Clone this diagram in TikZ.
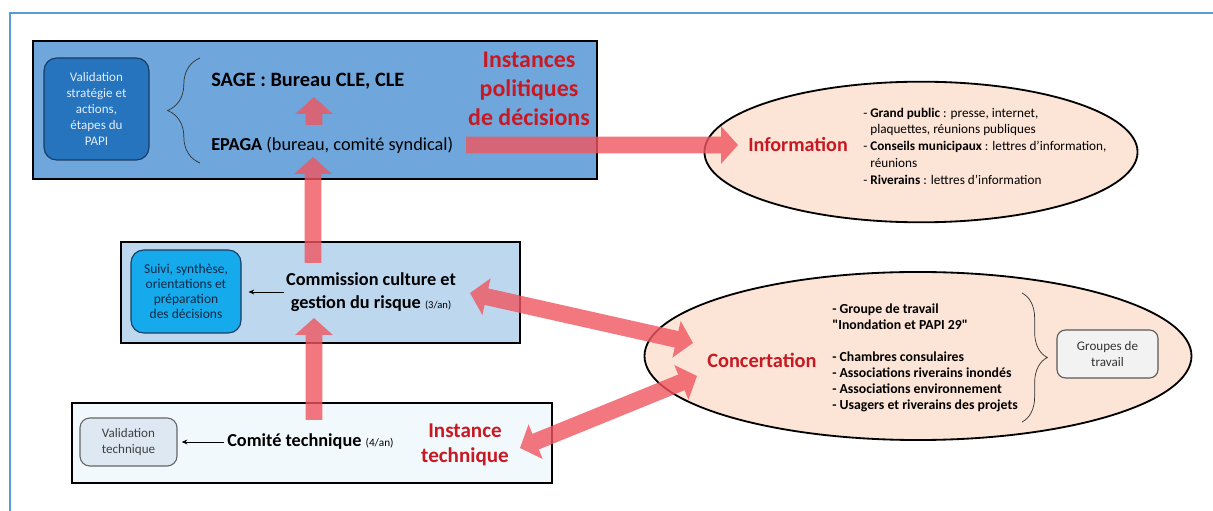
\documentclass[tikz,border=0pt]{standalone}
\usepackage{fontspec}
\setmainfont{Carlito}
\usetikzlibrary{arrows.meta,shapes.geometric,fit,decorations.pathreplacing}

\definecolor{framecol}{RGB}{91,155,213}
\definecolor{topfill}{RGB}{111,166,219}
\definecolor{midfill}{RGB}{189,215,238}
\definecolor{botfill}{RGB}{242,249,253}
\definecolor{validfill}{RGB}{38,115,190}
\definecolor{validdraw}{RGB}{25,60,100}
\definecolor{suivifill}{RGB}{20,170,235}
\definecolor{vtfill}{RGB}{222,232,243}
\definecolor{peach}{RGB}{252,228,214}
\definecolor{gtfill}{RGB}{242,242,242}
\definecolor{redtxt}{RGB}{200,25,35}
\definecolor{arrowred}{RGB}{240,85,95}

\tikzset{
  box/.style={draw=black, line width=1.4pt, inner sep=0pt},
  rbox/.style={draw, rounded corners=8pt, line width=0.8pt, inner sep=0pt},
  oval/.style={ellipse, draw=black, line width=1.3pt, fill=peach, inner sep=0pt},
  redarrow/.style={line width=12pt, draw=arrowred, -{Triangle[width=26pt,length=12pt]}},
  dredarrow/.style={line width=12pt, draw=arrowred, {Triangle[width=26pt,length=12pt]}-{Triangle[width=26pt,length=12pt]}},
  thinarrow/.style={-{Stealth[length=4pt,width=3.5pt]}, line width=0.6pt},
  redtitle/.style={text=redtxt, font=\bfseries\fontsize{15}{17.8}\selectfont, align=center, inner sep=0pt},
  smalltxt/.style={align=center, inner sep=0pt},
}

\begin{document}
\begin{tikzpicture}[x=0.025cm, y=-0.025cm]
%\draw[step=50,gray,very thin] (0,0) grid (1213,511); %background grid
\useasboundingbox (0,0) rectangle (1213,511);
\draw[framecol, line width=2pt] (10,511) -- (10,13) -- (1213,13);

% instances politiques
\node[box, fill=topfill, fit={(33,41) (597,179)}] (politique) {};
\node[rbox, fill=validfill, draw=validdraw, rounded corners=9pt, fit={(44,58) (149,160)}] (valid) {};
\node[smalltxt, text={rgb,255:red,225;green,238;blue,250}, font=\fontsize{9.3}{11.4}\selectfont] (validtxt) at (valid.center) {Validation\\stratégie et\\actions,\\étapes du\\PAPI};
\draw[black!80, line width=0.5pt, decorate, decoration={brace, amplitude=23pt}] (200,163) -- (200,58);
\node[anchor=west, inner sep=0pt, font=\bfseries\fontsize{14.5}{17}\selectfont] (sage) at (211,81) {SAGE : Bureau CLE, CLE};
\node[anchor=west, inner sep=0pt, font=\fontsize{13}{15}\selectfont] (epaga) at (211,145) {\textbf{EPAGA} (bureau, comité syndical)};
\node[redtitle, font=\bfseries\fontsize{17}{20.6}\selectfont] (instpol) at (529,89) {Instances\\politiques\\de décisions};

% commission
\node[box, fill=midfill, fit={(121,242) (520,343)}] (commbox) {};
\node[rbox, fill=suivifill, draw=validdraw, rounded corners=9pt, fit={(131,250) (241,333)}] (suivi) {};
\node[smalltxt, text={rgb,255:red,20;green,40;blue,70}, font=\fontsize{9.6}{10.7}\selectfont] (suivitxt) at (suivi.center) {Suivi, synthèse,\\orientations et\\préparation\\des décisions};
\node[align=center, inner sep=1pt, font=\bfseries\fontsize{13}{16.4}\selectfont] (commission) at (371,292) {Commission culture et\\gestion du risque {\mdseries\fontsize{7.5}{8}\selectfont(3/an)}};
\draw[thinarrow, shorten >=5pt] (commission.west) -- (suivi.east |- commission.west);

% comite technique
\node[box, fill=botfill, fit={(72,403) (552,483)}] (techbox) {};
\node[rbox, fill=vtfill, draw=black!60, rounded corners=7pt, fit={(80,418) (177,466)}] (vtech) {};
\node[smalltxt, text=black!75, font=\fontsize{9.3}{12}\selectfont] (vtechtxt) at (vtech.center) {Validation\\technique};
\node[anchor=west, inner sep=0pt, font=\bfseries\fontsize{13}{15}\selectfont] (comite) at (227,442) {Comité technique {\mdseries\fontsize{8}{9}\selectfont(4/an)}};
\draw[thinarrow, shorten >=3pt, shorten <=2pt] (comite.west) -- (vtech.east |- comite.west);
\node[redtitle] (insttech) at (465,445) {Instance\\technique};

% information
\node[oval, minimum width=308pt, minimum height=100pt] (info) at (921,152) {};
\node[anchor=west, inner sep=0pt, text=redtxt, font=\bfseries\fontsize{14.3}{17}\selectfont] (infotxt) at (748,145) {Information};
\node[anchor=west, align=left, inner sep=0pt, font=\fontsize{9.4}{11.9}\selectfont] (infolist) at (863,146) {- \textbf{Grand public} : presse, internet,\\\hspace*{5pt}plaquettes, réunions publiques\\- \textbf{Conseils municipaux} : lettres d’information,\\\hspace*{5pt}réunions\\- \textbf{Riverains} : lettres d’information};

% concertation
\node[oval, minimum width=389pt, minimum height=119.5pt] (conc) at (918,356) {};
\node[anchor=west, inner sep=0pt, text=redtxt, font=\bfseries\fontsize{14.5}{17}\selectfont] (conctxt) at (707,360) {Concertation};
\node[anchor=west, align=left, inner sep=0pt, font=\bfseries\fontsize{9.8}{11.4}\selectfont] (conclist) at (832,357.5) {- Groupe de travail\\\textquotedbl Inondation et PAPI 29\textquotedbl\\[11.4pt]- Chambres consulaires\\- Associations riverains inondés\\- Associations environnement\\- Usagers et riverains des projets};
\draw[black!80, line width=0.5pt, decorate, decoration={brace, amplitude=18pt}] (1022,293) -- (1022,422);
\node[rbox, fill=gtfill, draw=black!65, rounded corners=6pt, fit={(1057,330) (1158,378)}] (groupes) {};
\node[smalltxt, text=black!80, font=\fontsize{9.3}{11.4}\selectfont] (groupestxt) at (groupes.center) {Groupes de\\travail};

% fleches
\coordinate (a1) at (314,125);
\coordinate (a2) at (314,97);
\coordinate (b1) at (313,263);
\coordinate (b2) at (313,157);
\coordinate (c1) at (314,420);
\coordinate (c2) at (314,318);
\coordinate (d1) at (466,145);
\coordinate (d2) at (738,145);
\coordinate (e1) at (470,293);
\coordinate (e2) at (693,343);
\coordinate (f1) at (520,448);
\coordinate (f2) at (697,376);
\begin{scope}[transparency group, opacity=0.8]
\draw[redarrow] (a1) -- (a2);
\draw[redarrow] (b1) -- (b2);
\draw[redarrow] (c1) -- (c2);
\draw[redarrow] (d1) -- (d2);
\draw[dredarrow] (e1) -- (e2);
\draw[dredarrow] (f1) -- (f2);
\end{scope}
\end{tikzpicture}
\end{document}
